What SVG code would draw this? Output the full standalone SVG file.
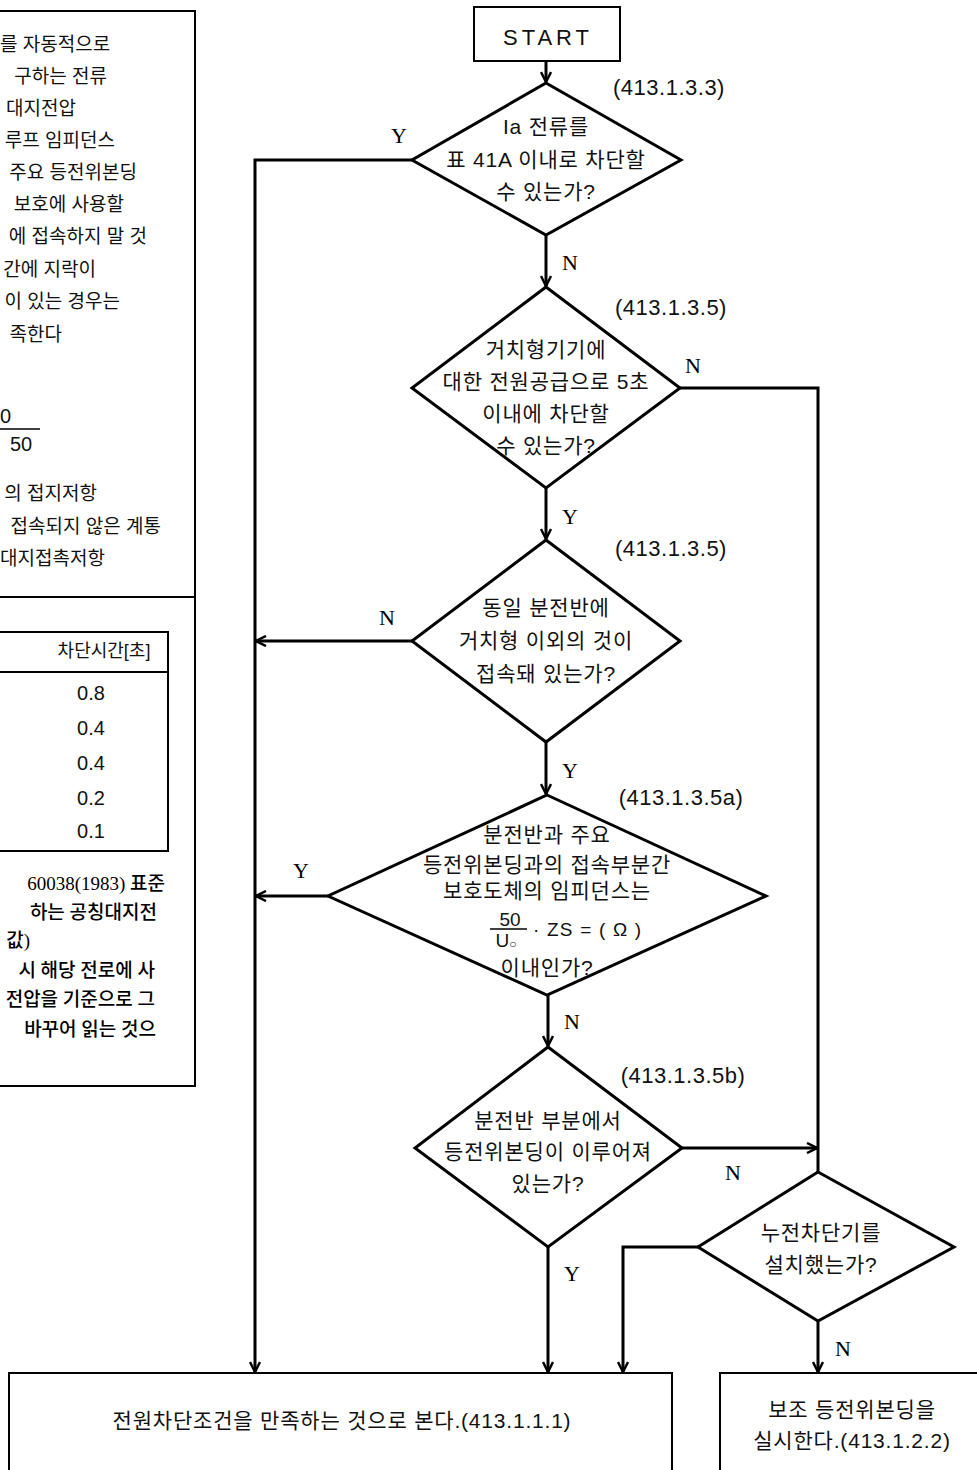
<svg xmlns="http://www.w3.org/2000/svg" width="977" height="1470" viewBox="0 0 977 1470">
<style>
.bg{fill:#fff}
.box{fill:#fff;stroke:#000;stroke-width:2}
.dia{fill:#fff;stroke:#000;stroke-width:3;stroke-linejoin:miter}
.ln{fill:none;stroke:#000;stroke-width:3}
.t{font-family:"Liberation Sans","Noto Sans CJK KR",sans-serif;font-size:21px;letter-spacing:0.8px;fill:#111;text-anchor:middle}
.ref{font-family:"Liberation Sans","Noto Sans CJK KR",sans-serif;font-size:22px;letter-spacing:0.5px;fill:#111;text-anchor:middle}
.yn{font-family:"Liberation Serif","Noto Sans CJK KR",serif;font-size:22px;fill:#000;text-anchor:middle}
.side{font-family:"Liberation Sans","Noto Sans CJK KR",sans-serif;font-size:19px;fill:#111;text-anchor:end}
.sidel{font-family:"Liberation Sans","Noto Sans CJK KR",sans-serif;font-size:19px;fill:#111;text-anchor:start}
.note{font-family:"Liberation Serif","Noto Sans CJK KR",serif;font-size:19px;font-weight:500;fill:#000;text-anchor:end}
.num{font-family:"Liberation Sans","Noto Sans CJK KR",sans-serif;font-size:20px;fill:#111;text-anchor:middle}
.frac{font-family:"Liberation Sans",sans-serif;font-size:20px;fill:#111}
</style>
<defs>
<marker id="arr" viewBox="0 0 12 12" refX="11" refY="6" markerWidth="12" markerHeight="12" markerUnits="userSpaceOnUse" orient="auto">
<path d="M1,1 L11,6 L1,11" fill="none" stroke="#000" stroke-width="2.5"/>
</marker>
</defs>
<rect class="bg" x="0" y="0" width="977" height="1470"/>

<g id="side-panel">
<rect class="box" x="-5" y="11" width="200" height="1075"/>
<line class="box" x1="-5" y1="597" x2="195" y2="597"/>
<text class="sidel" x="0" y="51">를 자동적으로</text>
<text class="side" x="107" y="83">구하는 전류</text>
<text class="side" x="76" y="115">대지전압</text>
<text class="side" x="115" y="147">루프 임피던스</text>
<text class="side" x="137" y="179">주요 등전위본딩</text>
<text class="side" x="124" y="211">보호에 사용할</text>
<text class="side" x="147" y="243">에 접속하지 말 것</text>
<text class="side" x="96" y="276">간에 지락이</text>
<text class="side" x="120" y="308">이 있는 경우는</text>
<text class="side" x="62" y="341">족한다</text>
<text class="frac" x="0" y="423">0</text>
<line x1="-5" y1="429" x2="40" y2="429" stroke="#000" stroke-width="1.5"/>
<text class="frac" x="10" y="451">50</text>
<text class="side" x="97" y="500">의 접지저항</text>
<text class="side" x="161" y="533">접속되지 않은 계통</text>
<text class="sidel" x="0" y="565">대지접촉저항</text>
<g id="table">
<rect class="box" x="-5" y="632" width="173" height="219"/>
<line class="box" x1="-5" y1="672" x2="168" y2="672"/>
<text class="sidel" x="104" y="657" style="text-anchor:middle;font-size:18px">차단시간[초]</text>
<text class="num" x="91" y="700">0.8</text>
<text class="num" x="91" y="735">0.4</text>
<text class="num" x="91" y="770">0.4</text>
<text class="num" x="91" y="805">0.2</text>
<text class="num" x="91" y="838">0.1</text>
</g>
<text class="note" x="165" y="890">60038(1983) 표준</text>
<text class="note" x="157" y="919">하는 공칭대지전</text>
<text class="note" x="30" y="947">값)</text>
<text class="note" x="155" y="977">시 해당 전로에 사</text>
<text class="note" x="155" y="1006">전압을 기준으로 그</text>
<text class="note" x="156" y="1036">바꾸어 읽는 것으</text>
</g>

<g id="connectors">
<line class="ln" x1="546" y1="61" x2="546" y2="82" marker-end="url(#arr)"/>
<polyline class="ln" points="412,160 255,160 255,1372" marker-end="url(#arr)"/>
<line class="ln" x1="546" y1="235" x2="546" y2="286" marker-end="url(#arr)"/>
<polyline class="ln" points="680,388 818,388 818,1172"/>
<line class="ln" x1="546" y1="488" x2="546" y2="539" marker-end="url(#arr)"/>
<line class="ln" x1="412" y1="641" x2="256" y2="641" marker-end="url(#arr)"/>
<line class="ln" x1="546" y1="742" x2="546" y2="794" marker-end="url(#arr)"/>
<line class="ln" x1="328" y1="896" x2="256" y2="896" marker-end="url(#arr)"/>
<line class="ln" x1="548" y1="995" x2="548" y2="1046" marker-end="url(#arr)"/>
<line class="ln" x1="682" y1="1148" x2="817" y2="1148" marker-end="url(#arr)"/>
<line class="ln" x1="548" y1="1247" x2="548" y2="1372" marker-end="url(#arr)"/>
<polyline class="ln" points="698,1247 623,1247 623,1372" marker-end="url(#arr)"/>
<line class="ln" x1="818" y1="1321" x2="818" y2="1372" marker-end="url(#arr)"/>
<text class="yn" x="399" y="143">Y</text>
<text class="yn" x="570" y="270">N</text>
<text class="yn" x="693" y="373">N</text>
<text class="yn" x="570" y="524">Y</text>
<text class="yn" x="387" y="625">N</text>
<text class="yn" x="570" y="778">Y</text>
<text class="yn" x="301" y="878">Y</text>
<text class="yn" x="572" y="1029">N</text>
<text class="yn" x="733" y="1180">N</text>
<text class="yn" x="572" y="1281">Y</text>
<text class="yn" x="843" y="1356">N</text>
</g>

<g id="start">
<rect class="box" x="474" y="7" width="146" height="54"/>
<text class="t" x="548" y="45" style="font-size:22px;letter-spacing:4px">START</text>
</g>

<g id="d1">
<polygon class="dia" points="546,83 681,160 546,235 412,160"/>
<text class="ref" x="669" y="95">(413.1.3.3)</text>
<text class="t" x="546" y="134">Ia 전류를</text>
<text class="t" x="546" y="167">표 41A 이내로 차단할</text>
<text class="t" x="546" y="199">수 있는가?</text>
</g>

<g id="d2">
<polygon class="dia" points="546,287 680,388 546,488 412,388"/>
<text class="ref" x="671" y="315">(413.1.3.5)</text>
<text class="t" x="546" y="357">거치형기기에</text>
<text class="t" x="546" y="389">대한 전원공급으로 5초</text>
<text class="t" x="546" y="421">이내에 차단할</text>
<text class="t" x="546" y="453">수 있는가?</text>
</g>

<g id="d3">
<polygon class="dia" points="546,540 680,641 546,742 412,641"/>
<text class="ref" x="671" y="556">(413.1.3.5)</text>
<text class="t" x="546" y="615">동일 분전반에</text>
<text class="t" x="546" y="648">거치형 이외의 것이</text>
<text class="t" x="546" y="681">접속돼 있는가?</text>
</g>

<g id="d4">
<polygon class="dia" points="547,795 766,896 547,995 328,896"/>
<text class="ref" x="681" y="805">(413.1.3.5a)</text>
<text class="t" x="547" y="842">분전반과 주요</text>
<text class="t" x="547" y="872">등전위본딩과의 접속부분간</text>
<text class="t" x="547" y="898">보호도체의 임피던스는</text>
<text x="510" y="926" style="font-family:'Liberation Sans',sans-serif;font-size:19px;fill:#111;text-anchor:middle">50</text>
<line x1="490" y1="929" x2="527" y2="929" stroke="#000" stroke-width="1.5"/>
<text x="506" y="947" style="font-family:'Liberation Sans',sans-serif;font-size:19px;fill:#111;text-anchor:middle">U<tspan font-size="12" dy="1">○</tspan></text>
<text x="533" y="936" style="font-family:'Liberation Sans',sans-serif;font-size:19px;letter-spacing:1.2px;fill:#111">· ZS = ( Ω )</text>
<text class="t" x="547" y="975">이내인가?</text>
</g>

<g id="d5">
<polygon class="dia" points="548,1047 682,1148 548,1247 415,1148"/>
<text class="ref" x="683" y="1083">(413.1.3.5b)</text>
<text class="t" x="548" y="1128">분전반 부분에서</text>
<text class="t" x="548" y="1159">등전위본딩이 이루어져</text>
<text class="t" x="548" y="1191">있는가?</text>
</g>

<g id="d6">
<polygon class="dia" points="818,1172 954,1247 818,1321 698,1247"/>
<text class="t" x="821" y="1240">누전차단기를</text>
<text class="t" x="821" y="1272">설치했는가?</text>
</g>

<g id="end1">
<rect class="box" x="9" y="1373" width="663" height="110"/>
<text class="t" x="342" y="1428">전원차단조건을 만족하는 것으로 본다.(413.1.1.1)</text>
</g>

<g id="end2">
<rect class="box" x="720" y="1373" width="270" height="110"/>
<text class="t" x="852" y="1417">보조 등전위본딩을</text>
<text class="t" x="852" y="1448">실시한다.(413.1.2.2)</text>
</g>
</svg>
